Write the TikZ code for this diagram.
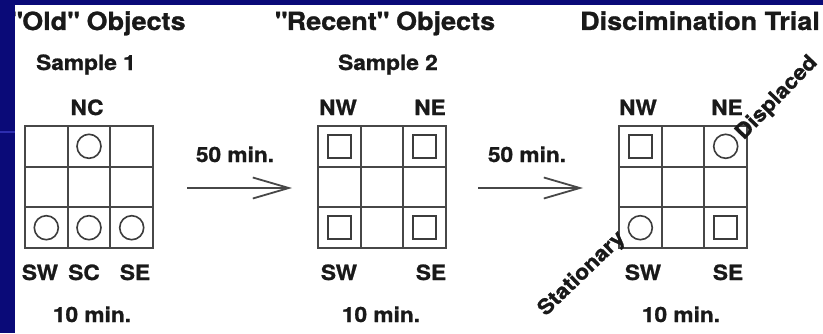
\documentclass[tikz,border=0pt]{standalone}
\usepackage{fontspec}
\setmainfont{TeX Gyre Heros}[FakeStretch=1.08,BoldFeatures={FakeBold=1}]
\usetikzlibrary{arrows.meta}
\definecolor{slideblue}{RGB}{10,10,120}
\definecolor{stripblue}{RGB}{45,45,175}
\definecolor{ink}{RGB}{25,25,25}

\begin{document}
\begin{tikzpicture}[x=1pt,y=1pt,
  title/.style={font=\fontsize{25}{25}\selectfont\bfseries,text=ink,anchor=base,inner sep=0pt},
  lbl/.style={font=\fontsize{21}{21}\selectfont\bfseries,text=ink,anchor=base,inner sep=0pt},
  tilted/.style={font=\fontsize{21}{21}\selectfont\bfseries,text=ink,inner sep=0pt},
  gridline/.style={line width=1.8pt,draw=ink!80},
  oldobj/.style={circle,draw=ink!85,line width=1.6pt,minimum size=24pt,inner sep=0pt},
  newobj/.style={rectangle,draw=ink!85,line width=1.8pt,minimum size=23pt,inner sep=0pt},
  delay/.style={draw=ink!80,line width=1.4pt,-{Straight Barb[length=36pt,width=21pt,line width=1.8pt]}}]
  \def\gw{128} \def\gh{122} \def\gy{85}
  \useasboundingbox (0,0) rectangle (823,333);
  % slide
  \fill[slideblue] (0,0) rectangle (823,333);
  \fill[white] (15,0) rectangle (823,328);
  % the three arenas
  \foreach \gx in {25,318,619} {
    \draw[gridline] (\gx,\gy) rectangle ++(\gw,\gh);
    \foreach \k in {1,2} {
      \draw[gridline] (\gx+\k*\gw/3,\gy) -- (\gx+\k*\gw/3,\gy+\gh);
      \draw[gridline] (\gx,\gy+\k*\gh/3) -- (\gx+\gw,\gy+\k*\gh/3);
    }
  }
  % sample 1
  \node[oldobj] (nc1) at (89,186.7) {};
  \node[oldobj] (sw1) at (46.3,105.3) {};
  \node[oldobj] (sc1) at (89,105.3) {};
  \node[oldobj] (se1) at (131.7,105.3) {};
  % sample 2
  \node[newobj] (nw2) at (339.3,186.7) {};
  \node[newobj] (ne2) at (424.7,186.7) {};
  \node[newobj] (sw2) at (339.3,105.3) {};
  \node[newobj] (se2) at (424.7,105.3) {};
  % test
  \node[newobj] (nw3) at (640.3,186.7) {};
  \node[oldobj] (ne3) at (725.7,186.7) {};
  \node[oldobj] (sw3) at (640.3,105.3) {};
  \node[newobj] (se3) at (725.7,105.3) {};
  % headings
  \node[title] (oldt) at (98,303) {\textquotedbl Old\textquotedbl{} Objects};
  \node[title] (recentt) at (385,303) {\textquotedbl Recent\textquotedbl{} Objects};
  \node[title] (trialt) at (700,303) {Discimination Trial};
  \node[lbl] (samp1) at (86,263) {Sample 1};
  \node[lbl] (samp2) at (388,263) {Sample 2};
  % corner labels
  \node[lbl] (lnc1) at (87,218) {NC};
  \node[lbl] (lnw2) at (338,218) {NW}; \node[lbl] (lne2) at (430,218) {NE};
  \node[lbl] (lnw3) at (638,218) {NW}; \node[lbl] (lne3) at (727,218) {NE};
  \node[lbl] (lsw1) at (40,53) {SW}; \node[lbl] (lsc1) at (84,53) {SC}; \node[lbl] (lse1) at (135,53) {SE};
  \node[lbl] (lsw2) at (339,53) {SW}; \node[lbl] (lse2) at (431,53) {SE};
  \node[lbl] (lsw3) at (643,53) {SW}; \node[lbl] (lse3) at (728,53) {SE};
  \node[lbl] (dur1) at (92,11) {10 min.};
  \node[lbl] (dur2) at (381,11) {10 min.};
  \node[lbl] (dur3) at (681,11) {10 min.};
  % delays
  \coordinate (d1s) at (187,145); \coordinate (d1e) at (292,145);
  \coordinate (d2s) at (478,145); \coordinate (d2e) at (583,145);
  \node[lbl] (gap1) at (235,171) {50 min.};
  \node[lbl] (gap2) at (527,171) {50 min.};
  \draw[delay] (d1s) -- (d1e);
  \draw[delay] (d2s) -- (d2e);
  \node[tilted,rotate=46] (displ) at (777,235) {Displaced};
  \node[tilted,rotate=44] (stat) at (582,59) {Stationary};
  % slide frame on top
  \fill[slideblue] (0,0) rectangle (15,333);
  \fill[slideblue] (0,328) rectangle (823,333);
  \draw[stripblue,line width=2pt] (0,201) -- (15,201);
\end{tikzpicture}
\end{document}
